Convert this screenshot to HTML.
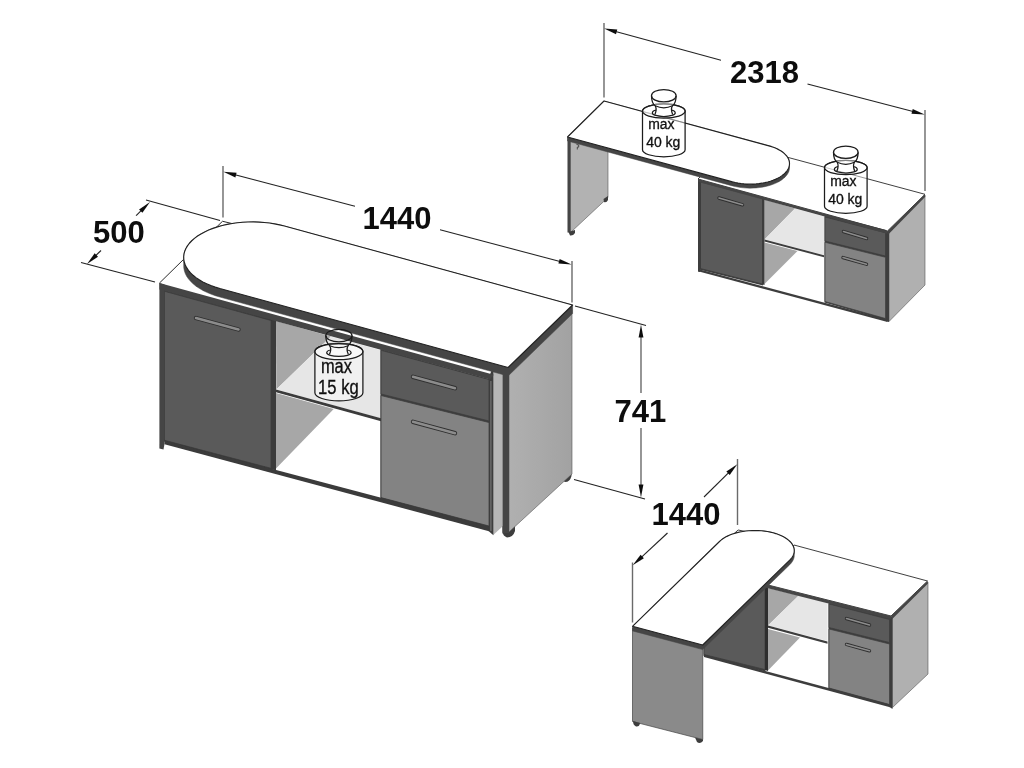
<!DOCTYPE html>
<html><head><meta charset="utf-8"><title>Dimensions</title>
<style>
html,body{margin:0;padding:0;background:#fff;}
body{width:1024px;height:768px;overflow:hidden;}
svg{display:block;font-family:"Liberation Sans",sans-serif;}
</style></head><body>
<svg width="1024" height="768" viewBox="0 0 1024 768">
<rect width="1024" height="768" fill="#ffffff"/>
<defs><filter id="soft" x="0" y="0" width="1024" height="768" filterUnits="userSpaceOnUse"><feGaussianBlur stdDeviation="0.5"/></filter></defs>
<g filter="url(#soft)">
<polygon points="159.40,283.10 222.50,221.25 572.00,311.00 509.00,373.00" fill="#ffffff" />
<line x1="159.40" y1="283.10" x2="222.50" y2="221.25" stroke="#2a2a2a" stroke-width="1.0"/>
<line x1="222.50" y1="221.25" x2="260.00" y2="230.40" stroke="#2a2a2a" stroke-width="1.0"/>
<defs><linearGradient id="gs" x1="0" y1="0" x2="1" y2="0"><stop offset="0" stop-color="#b0b0b0"/><stop offset="1" stop-color="#a2a2a2"/></linearGradient></defs>
<path d="M562,470 L571.5,468 L571.5,476 Q570,482 565,482 L562,480 Z" fill="#3d3d3d"/>
<path d="M502.5,526 L515,526 L515,531 Q513,537.5 507,537.5 Q503,536 502.5,532 Z" fill="#3d3d3d"/>
<polygon points="509.00,372.00 572.00,310.00 572.00,474.00 509.00,532.00" fill="url(#gs)" stroke="#555" stroke-width="0.6" stroke-linejoin="round" />
<polygon points="493.20,366.00 502.50,368.00 502.50,526.50 493.20,535.00" fill="#b6b6b6" />
<polygon points="502.50,367.00 509.00,372.00 509.00,533.00 502.50,533.50" fill="#454545" />
<polygon points="488.50,378.00 493.40,366.00 493.40,535.30 488.50,531.00" fill="#3c3c3c" />
<line x1="490.90" y1="381.00" x2="490.90" y2="531.00" stroke="#6e6e6e" stroke-width="1.4"/>
<polygon points="276.00,321.00 331.00,336.60 276.25,389.50" fill="#a7a7a7" />
<polygon points="276.25,389.50 331.00,336.60 381.00,350.30 381.00,418.50" fill="#e6e6e6" />
<polygon points="276.00,389.50 381.00,418.30 381.00,421.30 276.00,392.30" fill="#3a3a3a" />
<polygon points="276.00,393.00 333.75,409.00 276.00,468.50" fill="#a7a7a7" />
<polygon points="164.00,289.00 271.50,318.50 271.50,469.50 164.00,441.50" fill="#383838" />
<polygon points="164.50,291.30 271.00,320.50 271.00,468.30 164.50,440.30" fill="#5a5a5a" stroke="#3d3d3d" stroke-width="0.8" stroke-linejoin="round" />
<polygon points="159.40,283.10 164.50,284.50 164.50,444.00 163.50,449.50 159.40,448.50" fill="#454545" />
<polygon points="271.00,319.00 276.00,320.50 276.00,470.50 271.00,469.00" fill="#3a3a3a" />
<polygon points="380.50,349.00 489.00,379.00 489.00,527.00 380.50,498.50" fill="#3d3d3d" />
<polygon points="381.00,350.30 489.00,379.50 489.00,421.00 381.00,394.00" fill="#5a5a5a" stroke="#3d3d3d" stroke-width="0.8" stroke-linejoin="round" />
<polygon points="381.00,395.50 489.00,422.50 489.00,526.00 381.00,497.60" fill="#838383" stroke="#3d3d3d" stroke-width="0.8" stroke-linejoin="round" />
<polygon points="164.50,440.40 489.00,526.20 489.00,531.20 164.50,444.30" fill="#3a3a3a" />
<polygon points="159.40,283.10 493.75,374.71 490.00,379.48 159.40,289.60" fill="#454545" />
<line x1="196" y1="318" x2="238.5" y2="329.5" stroke="#2e2e2e" stroke-width="4.4" stroke-linecap="round"/>
<line x1="196" y1="318" x2="238.5" y2="329.5" stroke="#8c8c8c" stroke-width="2.6" stroke-linecap="round"/>
<line x1="413" y1="376.8" x2="455" y2="388.2" stroke="#2e2e2e" stroke-width="4.4" stroke-linecap="round"/>
<line x1="413" y1="376.8" x2="455" y2="388.2" stroke="#8c8c8c" stroke-width="2.6" stroke-linecap="round"/>
<line x1="413" y1="421.8" x2="455" y2="433.2" stroke="#2e2e2e" stroke-width="4.4" stroke-linecap="round"/>
<line x1="413" y1="421.8" x2="455" y2="433.2" stroke="#8c8c8c" stroke-width="2.6" stroke-linecap="round"/>
<polygon points="183.69,256.74 184.01,253.97 184.74,251.22 185.89,248.50 187.45,245.84 189.41,243.25 191.75,240.75 194.47,238.35 197.54,236.06 200.95,233.91 204.67,231.90 208.69,230.05 212.97,228.37 217.50,226.86 222.24,225.54 227.17,224.42 232.25,223.50 237.45,222.79 242.74,222.29 248.09,222.01 253.46,221.94 258.83,222.09 264.16,222.47 269.41,223.05 274.55,223.84 279.56,224.85 284.40,226.05 572.60,305.02 572.60,313.52 508.10,376.02 219.90,297.05 215.26,295.65 210.85,294.08 206.69,292.32 202.81,290.41 199.24,288.34 195.99,286.13 193.09,283.80 190.56,281.35 188.40,278.81 186.64,276.19 185.28,273.51 184.33,270.78 183.80,268.02 183.69,265.24" fill="#454545" stroke="#454545" stroke-width="0.5" stroke-linejoin="round" />
<polygon points="508.10,367.52 219.90,288.55 215.26,287.15 210.85,285.58 206.69,283.82 202.81,281.91 199.24,279.84 195.99,277.63 193.09,275.30 190.56,272.85 188.40,270.31 186.64,267.69 185.28,265.01 184.33,262.28 183.80,259.52 183.69,256.74 184.01,253.97 184.74,251.22 185.89,248.50 187.45,245.84 189.41,243.25 191.75,240.75 194.47,238.35 197.54,236.07 200.95,233.91 204.67,231.90 208.69,230.05 212.97,228.37 217.50,226.86 222.24,225.54 227.17,224.42 232.24,223.50 237.45,222.79 242.74,222.29 248.09,222.01 253.46,221.94 258.83,222.10 264.16,222.46 269.41,223.05 274.55,223.85 279.56,224.85 284.40,226.05 572.60,305.02" fill="#ffffff" stroke="#222" stroke-width="1.15" stroke-linejoin="round" />
<path d="M314.9,351.6 L314.9,392.8 A24,8.040000000000001 0 0 0 362.9,392.8 L362.9,351.6 A24,8.040000000000001 0 0 0 314.9,351.6" fill="#ffffff" fill-opacity="0.45" stroke="#1a1a1a" stroke-width="1.25"/>
<ellipse cx="338.9" cy="351.6" rx="24" ry="8.040000000000001" fill="#ffffff" fill-opacity="0.45" stroke="#1a1a1a" stroke-width="1.25"/>
<path d="M330.78,350.0 Q326.72,350.59999999999997 326.72,352.79999999999995 A12.18,3.6 0 0 0 351.08,352.79999999999995 Q351.08,350.59999999999997 347.02,350.0" fill="none" stroke="#1a1a1a" stroke-width="1.25"/>
<path d="M325.80,335.59999999999997 Q325.80,342.9 329.73,345.7 C331.30,348.4 331.04,350.9 329.47,354.29999999999995 M348.33,354.29999999999995 C346.76,350.9 346.50,348.4 348.07,345.7 Q352.00,342.9 352.00,335.59999999999997" fill="none" stroke="#1a1a1a" stroke-width="1.25"/>
<path d="M329.73,345.7 Q338.90,349.7 348.07,345.7" fill="none" stroke="#1a1a1a" stroke-width="1.25"/>
<ellipse cx="338.9" cy="335.59999999999997" rx="13.1" ry="6.2" fill="none" stroke="#1a1a1a" stroke-width="1.25"/>
<g stroke="#111" stroke-width="0.35">
<text x="336.4" y="373.1" font-size="20" font-weight="normal" text-anchor="middle" fill="#111" textLength="31" lengthAdjust="spacingAndGlyphs">max</text>
<text x="338.4" y="394.4" font-size="20" font-weight="normal" text-anchor="middle" fill="#111" textLength="40.6" lengthAdjust="spacingAndGlyphs">15 kg</text>
</g>
<line x1="146.00" y1="200.00" x2="220.00" y2="220.50" stroke="#222" stroke-width="1.1"/>
<line x1="81.00" y1="262.50" x2="155.00" y2="282.00" stroke="#222" stroke-width="1.1"/>
<line x1="136.10" y1="215.70" x2="142.17" y2="209.72" stroke="#222" stroke-width="1.1"/>
<polygon points="150.00,202.00 142.43,212.83 139.06,209.42" fill="#111" />
<line x1="101.00" y1="250.50" x2="94.92" y2="256.36" stroke="#222" stroke-width="1.1"/>
<polygon points="87.00,264.00 94.69,253.25 98.02,256.70" fill="#111" />
<text x="93" y="243" font-size="31" font-weight="bold" text-anchor="start" fill="#111" transform="translate(0,243) scale(1,1.04) translate(0,-243)">500</text>
<line x1="223.00" y1="166.00" x2="223.00" y2="217.50" stroke="#6a6a6a" stroke-width="1.4"/>
<line x1="572.00" y1="261.00" x2="572.00" y2="302.50" stroke="#6a6a6a" stroke-width="1.4"/>
<line x1="355.00" y1="206.30" x2="234.04" y2="174.59" stroke="#222" stroke-width="1.1"/>
<polygon points="223.40,171.80 236.58,172.78 235.37,177.42" fill="#111" />
<line x1="440.00" y1="229.70" x2="560.97" y2="261.78" stroke="#222" stroke-width="1.1"/>
<polygon points="571.60,264.60 558.42,263.59 559.65,258.95" fill="#111" />
<text x="362.5" y="229.3" font-size="31" font-weight="bold" text-anchor="start" fill="#111" transform="translate(0,229.3) scale(1,1.04) translate(0,-229.3)">1440</text>
<line x1="575.00" y1="306.00" x2="646.00" y2="325.50" stroke="#222" stroke-width="1.1"/>
<line x1="574.00" y1="479.50" x2="645.00" y2="499.00" stroke="#222" stroke-width="1.1"/>
<line x1="641.00" y1="393.00" x2="641.00" y2="335.50" stroke="#6a6a6a" stroke-width="1.4"/>
<polygon points="641.00,324.50 643.40,337.50 638.60,337.50" fill="#111" />
<line x1="641.00" y1="428.00" x2="641.00" y2="486.50" stroke="#6a6a6a" stroke-width="1.4"/>
<polygon points="641.00,497.50 638.60,484.50 643.40,484.50" fill="#111" />
<text x="614.5" y="422" font-size="31" font-weight="bold" text-anchor="start" fill="#111" transform="translate(0,422) scale(1,1.04) translate(0,-422)">741</text>
<polygon points="570.50,140.00 608.00,151.00 608.00,197.50 570.50,232.50" fill="#b2b2b2" stroke="#555" stroke-width="0.6" stroke-linejoin="round" />
<polygon points="567.50,138.00 570.50,139.00 570.50,232.50 567.50,232.50" fill="#454545" />
<path d="M568.5,232 L575,230 L575,233 Q573,236 570,235.5 Z" fill="#3d3d3d"/>
<path d="M603.5,199 L608,196 L608,200 Q606.5,203 604,202 Z" fill="#3d3d3d"/>
<path d="M576.5,144.5 l2.2,0.4 l0,2.2 l-1.4,0 l0,2.4" fill="none" stroke="#3d3d3d" stroke-width="0.9"/>
<polygon points="698.00,179.00 734.50,143.00 925.00,194.30 887.50,231.00" fill="#ffffff" stroke="#2a2a2a" stroke-width="0.9" stroke-linejoin="round" />
<polygon points="889.00,231.50 925.00,195.00 925.00,285.00 889.00,321.50" fill="#b0b0b0" stroke="#555" stroke-width="0.6" stroke-linejoin="round" />
<polygon points="885.50,231.00 889.00,231.50 889.00,322.00 885.50,321.00" fill="#3d3d3d" />
<polygon points="764.50,199.50 795.00,208.50 764.50,239.50" fill="#a7a7a7" />
<polygon points="764.50,239.50 795.00,208.50 824.00,216.50 824.00,255.00" fill="#e6e6e6" />
<polygon points="764.50,239.50 824.00,255.30 824.00,257.30 764.50,241.50" fill="#3d3d3d" />
<polygon points="764.50,242.50 797.50,251.00 764.50,284.00" fill="#a7a7a7" />
<polygon points="699.00,180.00 763.00,197.00 763.00,285.50 699.00,269.50" fill="#3d3d3d" />
<polygon points="700.50,182.00 762.50,198.00 762.50,284.00 700.50,268.50" fill="#5a5a5a" stroke="#3d3d3d" stroke-width="0.7" stroke-linejoin="round" />
<polygon points="698.00,179.00 700.50,180.00 700.50,269.00 700.00,272.00 698.00,271.50" fill="#3d3d3d" />
<polygon points="762.50,197.00 764.50,197.50 764.50,285.00 762.50,284.50" fill="#3d3d3d" />
<polygon points="824.50,214.00 886.00,230.00 886.00,320.00 824.50,302.50" fill="#3d3d3d" />
<polygon points="825.00,217.00 885.50,232.80 885.50,256.00 825.00,241.00" fill="#5a5a5a" stroke="#3d3d3d" stroke-width="0.7" stroke-linejoin="round" />
<polygon points="825.00,242.30 885.50,257.30 885.50,318.50 825.00,301.50" fill="#838383" stroke="#3d3d3d" stroke-width="0.7" stroke-linejoin="round" />
<polygon points="698.00,269.00 887.50,319.50 887.50,322.00 698.00,271.30" fill="#3d3d3d" />
<polygon points="698.00,179.00 887.50,231.00 887.50,233.80 698.00,181.80" fill="#454545" />
<polygon points="887.50,231.00 925.00,194.30 925.30,196.80 888.50,234.20" fill="#454545" />
<line x1="719" y1="198" x2="742.5" y2="204.8" stroke="#2e2e2e" stroke-width="3.4000000000000004" stroke-linecap="round"/>
<line x1="719" y1="198" x2="742.5" y2="204.8" stroke="#8c8c8c" stroke-width="1.6" stroke-linecap="round"/>
<line x1="843.5" y1="231.6" x2="866.5" y2="238.4" stroke="#2e2e2e" stroke-width="3.4000000000000004" stroke-linecap="round"/>
<line x1="843.5" y1="231.6" x2="866.5" y2="238.4" stroke="#8c8c8c" stroke-width="1.6" stroke-linecap="round"/>
<line x1="843" y1="257.6" x2="866.5" y2="264.2" stroke="#2e2e2e" stroke-width="3.4000000000000004" stroke-linecap="round"/>
<line x1="843" y1="257.6" x2="866.5" y2="264.2" stroke="#8c8c8c" stroke-width="1.6" stroke-linecap="round"/>
<polygon points="567.50,137.00 604.00,101.00 769.00,145.88 771.63,146.66 774.12,147.56 776.48,148.55 778.67,149.64 780.70,150.81 782.54,152.06 784.18,153.39 785.62,154.79 786.84,156.23 787.84,157.73 788.61,159.26 789.14,160.83 789.45,162.41 789.51,164.00 789.51,168.00 789.33,169.59 788.92,171.16 788.26,172.72 787.38,174.25 786.28,175.74 784.95,177.18 783.41,178.57 781.67,179.88 779.75,181.13 777.64,182.29 775.36,183.36 772.94,184.34 770.38,185.22 767.69,185.99 764.90,186.64 762.03,187.19 759.08,187.61 756.09,187.91 753.06,188.09 750.02,188.14 746.98,188.07 743.96,187.87 740.99,187.55 738.08,187.11 735.24,186.55 732.50,185.88 567.50,141.00" fill="#454545" stroke="#454545" stroke-width="0.5" stroke-linejoin="round" />
<polygon points="567.50,137.00 732.50,181.88 735.24,182.55 738.07,183.11 740.99,183.55 743.96,183.87 746.98,184.07 750.02,184.14 753.06,184.09 756.09,183.91 759.08,183.61 762.03,183.19 764.90,182.64 767.69,181.99 770.37,181.22 772.94,180.34 775.36,179.36 777.64,178.29 779.74,177.13 781.67,175.88 783.41,174.57 784.95,173.18 786.28,171.74 787.38,170.25 788.27,168.72 788.92,167.16 789.33,165.59 789.51,164.00 789.45,162.41 789.15,160.83 788.61,159.26 787.84,157.73 786.84,156.23 785.62,154.79 784.18,153.39 782.54,152.07 780.70,150.81 778.68,149.64 776.48,148.55 774.13,147.56 771.63,146.67 769.00,145.88 604.00,101.00" fill="#ffffff" stroke="#222" stroke-width="1.15" stroke-linejoin="round" />
<path d="M642.5,111.1 L642.5,149.7 A21.3,7.1355 0 0 0 685.0999999999999,149.7 L685.0999999999999,111.1 A21.3,7.1355 0 0 0 642.5,111.1" fill="#ffffff" fill-opacity="0.45" stroke="#1a1a1a" stroke-width="1.25"/>
<ellipse cx="663.8" cy="111.1" rx="21.3" ry="7.1355" fill="#ffffff" fill-opacity="0.45" stroke="#1a1a1a" stroke-width="1.25"/>
<path d="M656.17,110.1 Q652.36,110.7 652.36,112.9 A11.44,3.6 0 0 0 675.24,112.9 Q675.24,110.7 671.43,110.1" fill="none" stroke="#1a1a1a" stroke-width="1.25"/>
<path d="M651.50,95.7 Q651.50,103.0 655.19,105.8 C656.67,108.5 656.42,111.0 654.94,114.4 L672.66,114.4 C671.18,111.0 670.93,108.5 672.41,105.8 Q676.10,103.0 676.10,95.7 Z" fill="#ffffff" fill-opacity="0.45" stroke="none"/>
<path d="M651.50,95.7 Q651.50,103.0 655.19,105.8 C656.67,108.5 656.42,111.0 654.94,114.4 M672.66,114.4 C671.18,111.0 670.93,108.5 672.41,105.8 Q676.10,103.0 676.10,95.7" fill="none" stroke="#1a1a1a" stroke-width="1.25"/>
<path d="M655.19,105.8 Q663.80,109.8 672.41,105.8" fill="none" stroke="#1a1a1a" stroke-width="1.25"/>
<ellipse cx="663.8" cy="95.7" rx="12.3" ry="6.2" fill="#ffffff" fill-opacity="0.45" stroke="#1a1a1a" stroke-width="1.25"/>
<g stroke="#111" stroke-width="0.35">
<text x="661.3" y="129.3" font-size="15.5" font-weight="normal" text-anchor="middle" fill="#111" textLength="26.3" lengthAdjust="spacingAndGlyphs">max</text>
<text x="663.3" y="147.2" font-size="15.5" font-weight="normal" text-anchor="middle" fill="#111" textLength="34.2" lengthAdjust="spacingAndGlyphs">40 kg</text>
</g>
<path d="M824.5,167.6 L824.5,206.2 A21.3,7.1355 0 0 0 867.0999999999999,206.2 L867.0999999999999,167.6 A21.3,7.1355 0 0 0 824.5,167.6" fill="#ffffff" fill-opacity="0.45" stroke="#1a1a1a" stroke-width="1.25"/>
<ellipse cx="845.8" cy="167.6" rx="21.3" ry="7.1355" fill="#ffffff" fill-opacity="0.45" stroke="#1a1a1a" stroke-width="1.25"/>
<path d="M838.17,166.6 Q834.36,167.2 834.36,169.4 A11.44,3.6 0 0 0 857.24,169.4 Q857.24,167.2 853.43,166.6" fill="none" stroke="#1a1a1a" stroke-width="1.25"/>
<path d="M833.50,152.2 Q833.50,159.5 837.19,162.3 C838.67,165 838.42,167.5 836.94,170.9 L854.66,170.9 C853.18,167.5 852.93,165 854.41,162.3 Q858.10,159.5 858.10,152.2 Z" fill="#ffffff" fill-opacity="0.45" stroke="none"/>
<path d="M833.50,152.2 Q833.50,159.5 837.19,162.3 C838.67,165 838.42,167.5 836.94,170.9 M854.66,170.9 C853.18,167.5 852.93,165 854.41,162.3 Q858.10,159.5 858.10,152.2" fill="none" stroke="#1a1a1a" stroke-width="1.25"/>
<path d="M837.19,162.3 Q845.80,166.3 854.41,162.3" fill="none" stroke="#1a1a1a" stroke-width="1.25"/>
<ellipse cx="845.8" cy="152.2" rx="12.3" ry="6.2" fill="#ffffff" fill-opacity="0.45" stroke="#1a1a1a" stroke-width="1.25"/>
<g stroke="#111" stroke-width="0.35">
<text x="843.3" y="185.7" font-size="15.5" font-weight="normal" text-anchor="middle" fill="#111" textLength="26.3" lengthAdjust="spacingAndGlyphs">max</text>
<text x="845.3" y="203.7" font-size="15.5" font-weight="normal" text-anchor="middle" fill="#111" textLength="34.2" lengthAdjust="spacingAndGlyphs">40 kg</text>
</g>
<line x1="604.00" y1="23.00" x2="604.00" y2="97.50" stroke="#6a6a6a" stroke-width="1.4"/>
<line x1="925.00" y1="110.00" x2="925.00" y2="191.00" stroke="#6a6a6a" stroke-width="1.4"/>
<line x1="721.00" y1="60.20" x2="614.71" y2="31.29" stroke="#222" stroke-width="1.1"/>
<polygon points="604.10,28.40 617.27,29.50 616.01,34.13" fill="#111" />
<line x1="807.50" y1="84.00" x2="914.06" y2="111.82" stroke="#222" stroke-width="1.1"/>
<polygon points="924.70,114.60 911.52,113.64 912.73,108.99" fill="#111" />
<text x="730" y="83" font-size="31" font-weight="bold" text-anchor="start" fill="#111" transform="translate(0,83) scale(1,1.04) translate(0,-83)">2318</text>
<polygon points="766.00,584.50 794.00,545.00 927.50,581.00 891.00,616.00" fill="#ffffff" stroke="#2a2a2a" stroke-width="0.9" stroke-linejoin="round" />
<polygon points="892.50,617.00 928.00,582.00 928.00,674.00 892.50,707.50" fill="#b0b0b0" stroke="#555" stroke-width="0.6" stroke-linejoin="round" />
<polygon points="889.50,616.00 892.50,617.00 892.50,709.00 889.50,707.00" fill="#3d3d3d" />
<polygon points="768.00,588.00 798.75,595.50 768.00,625.50" fill="#a7a7a7" />
<polygon points="768.00,625.50 798.75,595.50 827.50,602.50 827.50,641.00" fill="#e6e6e6" />
<polygon points="768.00,625.50 827.50,641.50 827.50,643.70 768.00,627.70" fill="#3d3d3d" />
<polygon points="768.00,629.00 800.00,637.50 768.00,670.50" fill="#a7a7a7" />
<polygon points="703.50,646.00 765.50,585.00 765.50,671.50 703.50,656.00" fill="#3d3d3d" />
<polygon points="704.00,645.50 765.00,586.00 765.00,669.50 704.00,654.50" fill="#5a5a5a" stroke="#3d3d3d" stroke-width="0.7" stroke-linejoin="round" />
<polygon points="765.00,586.00 768.00,587.00 768.00,671.00 765.00,670.00" fill="#2e2e2e" />
<polygon points="828.50,601.00 890.00,617.00 890.00,706.00 828.50,689.00" fill="#3d3d3d" />
<polygon points="829.00,604.00 889.50,619.50 889.50,642.50 829.00,627.50" fill="#5a5a5a" stroke="#3d3d3d" stroke-width="0.7" stroke-linejoin="round" />
<polygon points="829.00,629.00 889.50,644.00 889.50,704.50 829.00,688.00" fill="#838383" stroke="#3d3d3d" stroke-width="0.7" stroke-linejoin="round" />
<polygon points="704.00,654.50 890.00,704.50 890.00,707.20 704.00,657.00" fill="#3d3d3d" />
<polygon points="766.00,584.50 891.00,616.00 891.00,619.30 766.00,587.80" fill="#454545" />
<polygon points="891.00,616.00 927.50,581.00 928.00,583.60 892.00,619.30" fill="#454545" />
<line x1="846.5" y1="618.6" x2="869.5" y2="625" stroke="#2e2e2e" stroke-width="3.4000000000000004" stroke-linecap="round"/>
<line x1="846.5" y1="618.6" x2="869.5" y2="625" stroke="#8c8c8c" stroke-width="1.6" stroke-linecap="round"/>
<line x1="846.5" y1="644.4" x2="869.5" y2="650.8" stroke="#2e2e2e" stroke-width="3.4000000000000004" stroke-linecap="round"/>
<line x1="846.5" y1="644.4" x2="869.5" y2="650.8" stroke="#8c8c8c" stroke-width="1.6" stroke-linecap="round"/>
<polygon points="632.50,628.00 702.75,647.00 702.75,739.50 632.50,721.50" fill="#8a8a8a" stroke="#444" stroke-width="0.7" stroke-linejoin="round" />
<path d="M633,721 L640,723 Q639.5,727 636,726.5 Q633,725 633,721 Z" fill="#3d3d3d"/>
<path d="M695,737.5 L703,739.5 L703,741 Q700,744.5 697,742 Z" fill="#3d3d3d"/>
<line x1="732.00" y1="535.50" x2="738.10" y2="530.00" stroke="#2a2a2a" stroke-width="0.9"/>
<line x1="738.10" y1="530.00" x2="746.00" y2="531.60" stroke="#2a2a2a" stroke-width="0.9"/>
<polygon points="632.50,626.30 719.50,541.48 721.06,540.09 722.83,538.77 724.79,537.52 726.93,536.36 729.25,535.28 731.72,534.30 734.34,533.43 737.08,532.66 739.92,532.00 742.86,531.46 745.87,531.04 748.94,530.74 752.03,530.56 755.15,530.51 758.26,530.58 761.35,530.78 764.39,531.10 767.38,531.55 770.29,532.11 773.10,532.79 775.80,533.58 778.36,534.47 780.78,535.47 783.04,536.56 785.12,537.74 787.02,539.00 788.71,540.33 790.20,541.73 791.46,543.18 792.50,544.68 793.30,546.22 793.87,547.79 794.19,549.37 794.27,550.97 794.27,555.57 794.11,557.16 793.70,558.74 793.05,560.31 792.16,561.84 791.04,563.33 789.70,564.77 702.70,649.60 632.50,630.90" fill="#454545" stroke="#454545" stroke-width="0.5" stroke-linejoin="round" />
<polygon points="632.50,626.30 702.70,645.00 789.70,560.17 791.04,558.73 792.16,557.24 793.05,555.71 793.70,554.14 794.11,552.56 794.27,550.97 794.19,549.37 793.87,547.79 793.31,546.22 792.50,544.68 791.46,543.18 790.20,541.73 788.71,540.33 787.02,539.00 785.12,537.74 783.04,536.56 780.78,535.47 778.36,534.47 775.80,533.58 773.10,532.79 770.29,532.11 767.38,531.55 764.39,531.10 761.35,530.78 758.26,530.58 755.15,530.51 752.03,530.56 748.94,530.74 745.87,531.04 742.86,531.46 739.92,532.00 737.08,532.66 734.34,533.43 731.72,534.31 729.25,535.28 726.93,536.36 724.79,537.52 722.83,538.77 721.06,540.09 719.50,541.47" fill="#ffffff" stroke="#222" stroke-width="1.15" stroke-linejoin="round" />
<line x1="737.50" y1="459.00" x2="737.50" y2="525.00" stroke="#6a6a6a" stroke-width="1.4"/>
<line x1="632.50" y1="562.50" x2="632.50" y2="622.50" stroke="#6a6a6a" stroke-width="1.4"/>
<line x1="704.00" y1="497.00" x2="729.46" y2="471.92" stroke="#222" stroke-width="1.1"/>
<polygon points="737.30,464.20 729.72,475.03 726.35,471.61" fill="#111" />
<line x1="667.50" y1="533.00" x2="640.76" y2="557.82" stroke="#222" stroke-width="1.1"/>
<polygon points="632.70,565.30 640.60,554.70 643.86,558.22" fill="#111" />
<text x="651.5" y="525.5" font-size="31" font-weight="bold" text-anchor="start" fill="#111" transform="translate(0,525.5) scale(1,1.04) translate(0,-525.5)">1440</text>
</g>
</svg>
</body></html>
